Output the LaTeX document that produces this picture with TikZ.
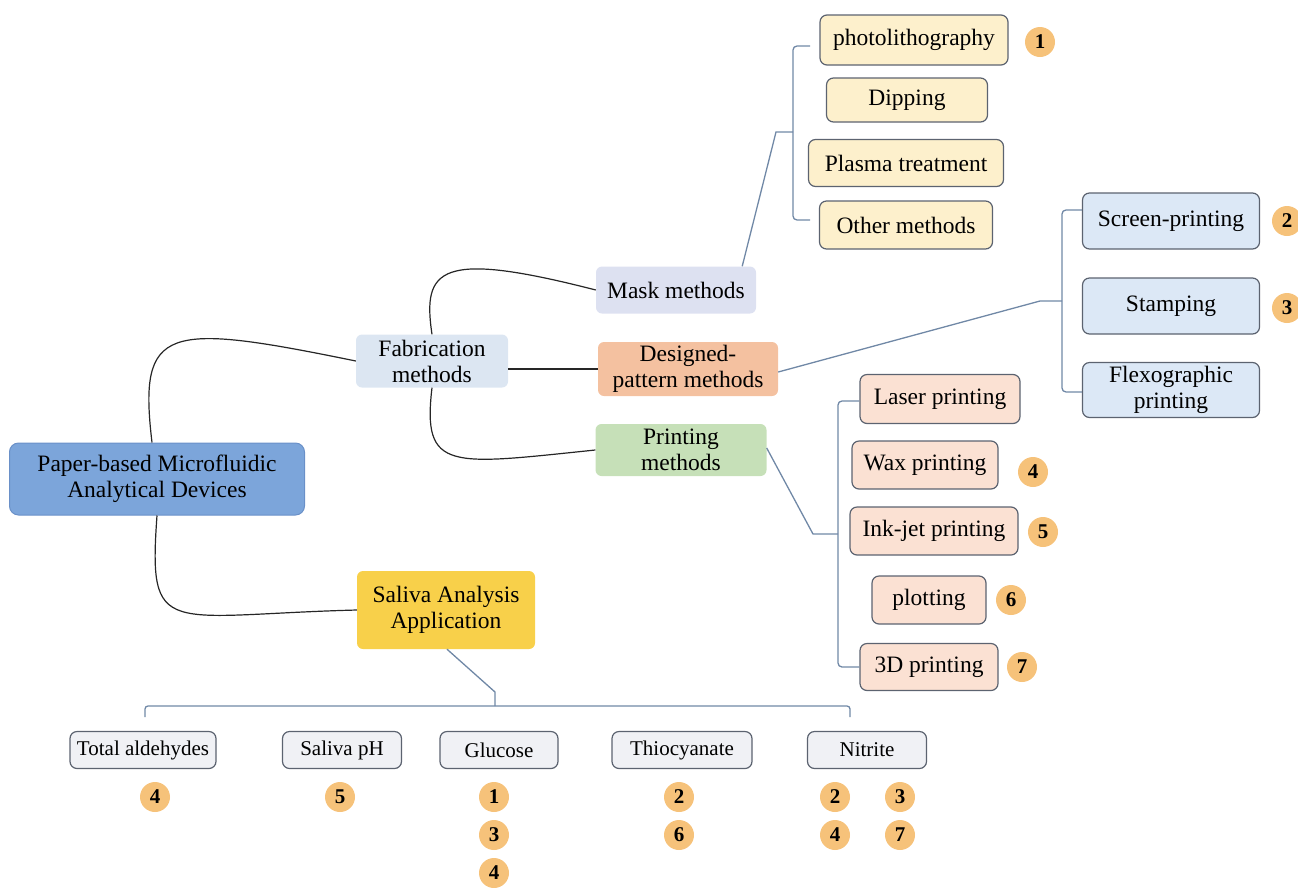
\documentclass[tikz,border=0pt]{standalone}
\usepackage{fontspec}
\setmainfont{Liberation Serif}
\usetikzlibrary{calc}
\definecolor{mainblue}{HTML}{7CA5DA}
\definecolor{mainborder}{HTML}{6A90C8}
\definecolor{fabblue}{HTML}{DCE6F2}
\definecolor{maskblue}{HTML}{DDE1F1}
\definecolor{designorange}{HTML}{F4C1A0}
\definecolor{printgreen}{HTML}{C6E0B8}
\definecolor{salivayellow}{HTML}{F8D04A}
\definecolor{yellowleaf}{HTML}{FDF0CC}
\definecolor{blueleaf}{HTML}{DCE8F6}
\definecolor{pinkleaf}{HTML}{FBE1D3}
\definecolor{grayleaf}{HTML}{F0F1F5}
\definecolor{leafborder}{HTML}{5C6370}
\definecolor{badgeorange}{HTML}{F6C27A}
\definecolor{brkcol}{HTML}{7088A6}
\tikzset{
  box/.style={rounded corners=6pt, align=center, inner sep=0pt, font=\fontsize{23.5}{26}\selectfont},
  mainbox/.style={box, fill=mainblue, draw=mainborder, line width=1pt, rounded corners=9pt},
  catbox/.style={box},
  leaf/.style={box, draw=leafborder, line width=1.2pt, rounded corners=7pt},
  lowleaf/.style={leaf, fill=grayleaf, font=\fontsize{21}{24}\selectfont, minimum height=37pt},
  badge/.style={circle, fill=badgeorange, minimum size=30pt, inner sep=0pt, font=\fontsize{21}{22}\selectfont\bfseries},
  curve/.style={draw=black!85, line width=1.2pt},
  brk/.style={draw=brkcol, line width=1.3pt}
}
\begin{document}
\begin{tikzpicture}[x=1pt,y=-1pt]
\useasboundingbox (0,0) rectangle (1298,887);
% main nodes
\node[mainbox, minimum width=295pt, minimum height=72pt] (main) at (157,479) {Paper-based Microfluidic\\Analytical Devices};
\node[catbox, fill=fabblue, minimum width=152pt, minimum height=53pt] (fab) at (432,361) {Fabrication\\methods};
\node[catbox, fill=maskblue, minimum width=160pt, minimum height=47pt] (mask) at (676,290) {Mask methods};
\node[catbox, fill=designorange, minimum width=180pt, minimum height=54pt] (design) at (688,369) {Designed-\\pattern methods};
\node[catbox, fill=printgreen, minimum width=171pt, minimum height=52pt] (print) at (681,450) {Printing\\methods};
\node[catbox, fill=salivayellow, minimum width=178pt, minimum height=78pt] (saliva) at (446,610) {Saliva Analysis\\Application};
% mask leaves
\node[leaf, fill=yellowleaf, minimum width=188pt, minimum height=50pt] (photo) at (914,40) {photolithography};
\node[leaf, fill=yellowleaf, minimum width=161pt, minimum height=44pt] (dip) at (907,100) {Dipping};
\node[leaf, fill=yellowleaf, minimum width=195pt, minimum height=47pt] (plasma) at (906,163) {Plasma treatment};
\node[leaf, fill=yellowleaf, minimum width=173pt, minimum height=48pt] (other) at (906,225) {Other methods};
\node[badge] (b1) at (1040,42) {1};
% designed leaves
\node[leaf, fill=blueleaf, minimum width=177pt, minimum height=56pt] (screen) at (1171,221) {Screen-printing};
\node[leaf, fill=blueleaf, minimum width=177pt, minimum height=56pt] (stamp) at (1171,306) {Stamping};
\node[leaf, fill=blueleaf, minimum width=177pt, minimum height=55pt] (flexo) at (1171,390) {Flexographic\\printing};
\node[badge] (b2) at (1287,221) {2};
\node[badge] (b3) at (1287,308) {3};
% printing leaves
\node[leaf, fill=pinkleaf, minimum width=160pt, minimum height=49pt] (laser) at (940,399) {Laser printing};
\node[leaf, fill=pinkleaf, minimum width=146pt, minimum height=48pt] (wax) at (925,465) {Wax printing};
\node[leaf, fill=pinkleaf, minimum width=168pt, minimum height=48pt] (ink) at (934,531) {Ink-jet printing};
\node[leaf, fill=pinkleaf, minimum width=114pt, minimum height=48pt] (plot) at (929,600) {plotting};
\node[leaf, fill=pinkleaf, minimum width=138pt, minimum height=47pt] (threed) at (929,667) {3D printing};
\node[badge] (b4) at (1033,472) {4};
\node[badge] (b5) at (1043,532) {5};
\node[badge] (b6) at (1011,600) {6};
\node[badge] (b7) at (1022,667) {7};
% saliva leaves
\node[lowleaf, minimum width=146pt] (ald) at (143,750) {Total aldehydes};
\node[lowleaf, minimum width=119pt] (ph) at (342,750) {Saliva pH};
\node[lowleaf, minimum width=118pt] (glu) at (499,750) {Glucose};
\node[lowleaf, minimum width=140pt] (thio) at (682,750) {Thiocyanate};
\node[lowleaf, minimum width=119pt] (nit) at (867,750) {Nitrite};
\node[badge] (a4) at (155,797) {4};
\node[badge] (p5) at (340,797) {5};
\node[badge] (g1) at (494,797) {1};
\node[badge] (g3) at (494,835) {3};
\node[badge] (g4) at (494,873) {4};
\node[badge] (t2) at (679,797) {2};
\node[badge] (t6) at (679,835) {6};
\node[badge] (n2) at (835,797) {2};
\node[badge] (n3) at (900,797) {3};
\node[badge] (n4) at (835,835) {4};
\node[badge] (n7) at (900,835) {7};
% curves
\draw[curve] ([xshift=-5pt]main.north) .. controls (138,325) and (165,322) .. (fab.west);
\draw[curve] (main.south) .. controls (148,640) and (165,615) .. (saliva.west);
\draw[curve] (fab.north) .. controls (422,268) and (440,250) .. (mask.west);
\draw[curve] (fab.south) .. controls (422,472) and (450,465) .. (print.west);
\draw[curve] (fab.east |- design.west) -- (design.west);
% mask bracket
\coordinate (mtip) at (776,132);
\draw[brk] ([xshift=-14pt]mask.north east) -- (mtip) -- (793,132);
\draw[brk, rounded corners=4pt] (810,46) -- (793,46) -- (793,220) -- (810,220);
% designed bracket
\coordinate (dtip) at (1040,301);
\draw[brk] ([yshift=-3pt]design.east) -- (dtip) -- (1062,301);
\draw[brk, rounded corners=4pt] (screen.west |- 0,210) -- (1062,210) -- (1062,392) -- (flexo.west |- 0,392);
% printing bracket
\coordinate (ptip) at (813,534);
\draw[brk] ([yshift=2pt]print.east) -- (ptip) -- (838,534);
\draw[brk, rounded corners=4pt] (laser.west |- 0,401) -- (838,401) -- (838,667) -- (threed.west);
% saliva bracket
\coordinate (stip) at (495,692);
\draw[brk] ([xshift=1pt]saliva.south) -- (stip) -- (495,706);
\draw[brk, rounded corners=3pt] (145,717) -- (145,706) -- (850,706) -- (850,717);
\end{tikzpicture}
\end{document}
